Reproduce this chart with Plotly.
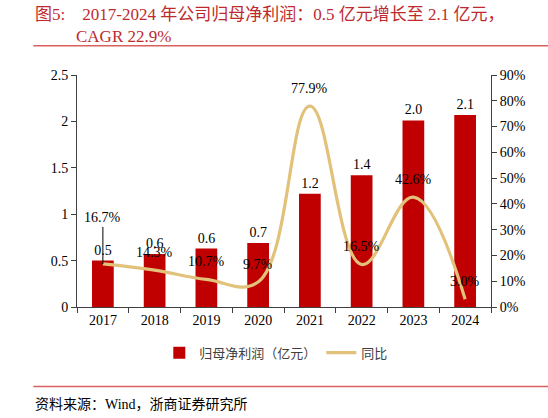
import plotly.graph_objects as go

years = ["2017", "2018", "2019", "2020", "2021", "2022", "2023", "2024"]
profit = [0.50, 0.57, 0.63, 0.69, 1.22, 1.42, 2.01, 2.07]
growth = [16.7, 14.3, 10.7, 9.7, 77.9, 16.5, 42.6, 3.0]
growth_labels = ["16.7%", "14.3%", "10.7%", "9.7%", "77.9%", "16.5%", "42.6%", "3.0%"]
left_ticks = [0, 0.5, 1, 1.5, 2, 2.5]
left_ticklabels = ["0", "0.5", "1", "1.5", "2", "2.5"]
right_ticks = [0, 10, 20, 30, 40, 50, 60, 70, 80, 90]
right_ticklabels = ["0%", "10%", "20%", "30%", "40%", "50%", "60%", "70%", "80%", "90%"]

W, H = 548, 418
L, R, T, B = 76.7, 57.3, 75.3, 110.7
PW = W - L - R
PH = H - T - B

def px_x(px):
    return (px - L) / PW

def px_y(py):
    return (H - B - py) / PH

SERIF = "Times New Roman, Liberation Serif, Noto Sans CJK SC"
SANS = "Noto Sans CJK SC, Noto Sans, sans-serif"
RED = "#C00000"
GOLD = "#E2C27A"
TITLE_RED = "#BE2A2E"

fig = go.Figure()
fig.add_trace(go.Bar(
    x=years, y=profit, name="归母净利润（亿元）",
    marker=dict(color=RED, line=dict(width=0)),
    width=0.42,
    text=[f"{v:.1f}" for v in profit], textposition="outside",
    textfont=dict(family=SERIF, size=14, color="#000000"),
    cliponaxis=False,
))
fig.add_trace(go.Scatter(
    x=years, y=growth, name="同比", yaxis="y2", mode="lines",
    line=dict(color=GOLD, width=3.2, shape="spline", smoothing=1.15),
))

annotations = []
for i, (g, lab) in enumerate(zip(growth, growth_labels)):
    if i == 0:
        annotations.append(dict(
            x=i, y=g, xref="x", yref="y2", text=lab, showarrow=True,
            arrowhead=0, arrowwidth=1, arrowcolor="#000000", ax=0, ay=-46,
            font=dict(family=SERIF, size=14, color="#000000"),
        ))
    else:
        annotations.append(dict(
            x=i, y=g, xref="x", yref="y2", text=lab, showarrow=False,
            yshift=18, font=dict(family=SERIF, size=14, color="#000000"),
        ))

annotations.append(dict(
    x=px_x(33), y=px_y(15), xref="paper", yref="paper", xanchor="left", yanchor="middle",
    text="图5:&nbsp;&nbsp;&nbsp;&nbsp;2017-2024 年公司归母净利润：0.5 亿元增长至 2.1 亿元，",
    showarrow=False, font=dict(family=SERIF, size=17, color=TITLE_RED),
))
annotations.append(dict(
    x=px_x(74), y=px_y(37), xref="paper", yref="paper", xanchor="left", yanchor="middle",
    text="CAGR 22.9%", showarrow=False, font=dict(family=SERIF, size=17, color=TITLE_RED),
))
annotations.append(dict(
    x=px_x(33), y=px_y(405), xref="paper", yref="paper", xanchor="left", yanchor="middle",
    text="资料来源：Wind，浙商证券研究所", showarrow=False,
    font=dict(family=SERIF, size=14, color="#000000"),
))

shapes = [
    dict(type="line", xref="paper", yref="paper", x0=px_x(33), x1=px_x(548),
         y0=px_y(46), y1=px_y(46), line=dict(color="#D9605F", width=1.5)),
    dict(type="line", xref="paper", yref="paper", x0=px_x(33), x1=px_x(548),
         y0=px_y(386.7), y1=px_y(386.7), line=dict(color="#D9605F", width=1.5)),
]

fig.update_layout(
    width=W, height=H, autosize=False,
    margin=dict(l=L, r=R, t=T, b=B, pad=0),
    paper_bgcolor="white", plot_bgcolor="white",
    showlegend=True,
    legend=dict(orientation="h", x=px_x(276), y=px_y(353), xanchor="center", yanchor="middle",
                font=dict(family=SANS, size=13, color="#404040"), bgcolor="rgba(0,0,0,0)",
                itemwidth=30),
    xaxis=dict(type="category", showline=True, linecolor="#404040", linewidth=1,
               ticks="outside", ticklen=5, tickcolor="#404040", tickson="boundaries",
               tickfont=dict(family=SERIF, size=14, color="#000000"), showgrid=False,
               range=[-0.5, 7.5]),
    yaxis=dict(range=[0, 2.5], tickvals=left_ticks, ticktext=left_ticklabels,
               showline=True, linecolor="#404040", linewidth=1, ticks="outside", ticklen=5,
               tickcolor="#404040", showgrid=False, zeroline=False,
               tickfont=dict(family=SERIF, size=14, color="#000000")),
    yaxis2=dict(range=[0, 90], tickvals=right_ticks, ticktext=right_ticklabels,
                overlaying="y", side="right",
                showline=True, linecolor="#404040", linewidth=1, ticks="outside", ticklen=5,
                tickcolor="#404040", showgrid=False, zeroline=False,
                tickfont=dict(family=SERIF, size=14, color="#000000")),
    annotations=annotations,
    shapes=shapes,
)

fig.write_html("out.html", config={"displayModeBar": False},
               post_script="document.body.style.margin='0px';document.body.style.overflow='hidden';")
